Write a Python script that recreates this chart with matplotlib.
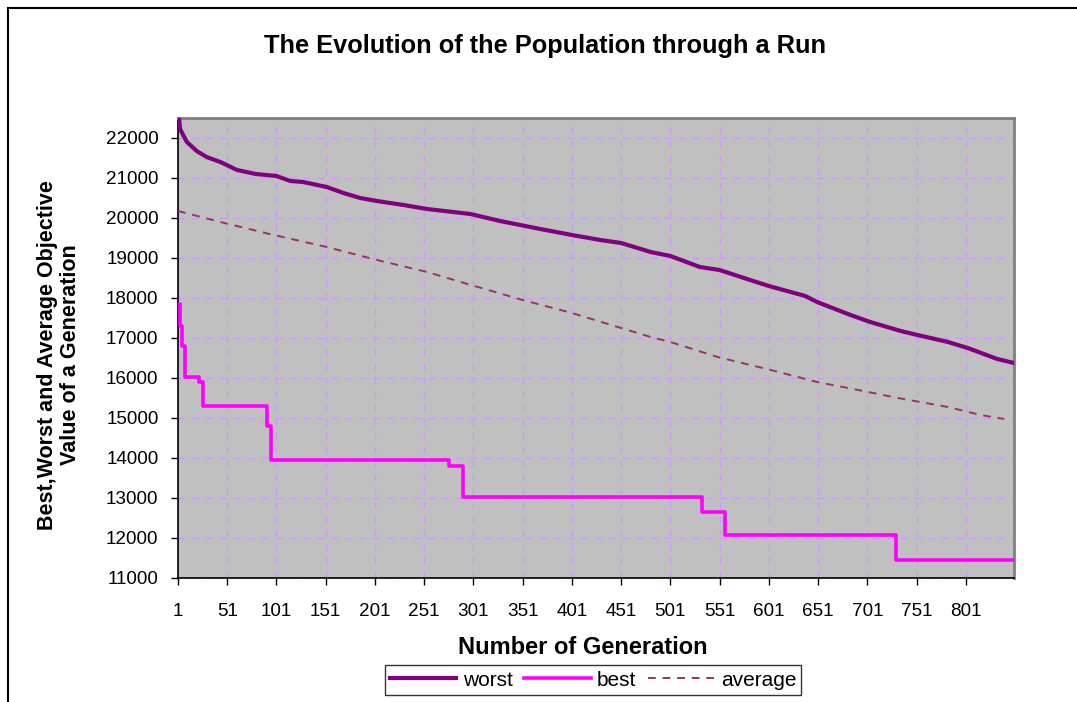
import numpy as np
import matplotlib.pyplot as plt
from matplotlib.patches import Rectangle

plt.rcParams['font.family'] = ['Liberation Sans', 'DejaVu Sans']

worst_gen = [1, 3, 10, 20, 30, 44, 61, 80, 101, 115, 128, 152, 169, 186, 203,
             230, 254, 298, 328, 369, 401, 430, 451, 481, 501, 531, 551, 582,
             601, 638, 650, 684, 704, 735, 752, 783, 803, 833, 850]
worst_val = [22800, 22230, 21900, 21675, 21525, 21400, 21200, 21100, 21050,
             20925, 20900, 20775, 20625, 20500, 20425, 20325, 20225, 20100,
             19925, 19725, 19575, 19450, 19375, 19150, 19050, 18775, 18700,
             18450, 18300, 18050, 17900, 17575, 17400, 17175, 17075, 16900,
             16750, 16475, 16375]

# population average
avg_gen = [1, 44, 94, 152, 203, 254, 295, 351, 401, 451, 481, 501, 549, 603,
           650, 697, 732, 783, 816, 840]
avg_val = [20175, 19900, 19600, 19275, 18950, 18650, 18350, 17950, 17625,
           17250, 17025, 16900, 16525, 16200, 15900, 15675, 15500, 15275,
           15075, 14975]

# best individual: generation where a new value starts
best_gen = [1, 3, 5, 8, 22, 26, 91, 95, 276, 290, 533, 557, 730, 850]
best_val = [17850, 17300, 16800, 16025, 15900, 15300, 14800, 13950, 13800,
            13025, 12650, 12075, 11450, 11450]

xticks = list(range(1, 802, 50))
yticks = list(range(11000, 22001, 1000))

fig = plt.figure(figsize=(10.77, 7.02), dpi=100)
ax = fig.add_axes([178 / 1077, 1 - 578 / 702, (1014 - 178) / 1077, (578 - 118) / 702])
ax.set_facecolor('#C0C0C0')

ax.plot(worst_gen, worst_val, color='#800080', lw=3, label='worst', zorder=4)
ax.plot(best_gen, best_val, color='#FF00FF', lw=2.6, drawstyle='steps-post',
        label='best', zorder=4)
ax.plot(avg_gen, avg_val, color='#993366', lw=1.4, dashes=(4, 3.5),
        label='average', zorder=3)

ax.set_xlim(1, 850)
ax.set_ylim(11000, 22500)
ax.set_xticks(xticks)
ax.set_yticks(yticks)
ax.tick_params(axis='both', direction='out', length=5, width=1, labelsize=13.6,
               colors='black')
ax.tick_params(axis='x', pad=13)
ax.tick_params(axis='y', pad=9)
ax.grid(True, color='#CC99FF', lw=1, dashes=(5, 5))
ax.set_axisbelow(True)

for s in ['top', 'right']:
    ax.spines[s].set_color('#808080')
    ax.spines[s].set_linewidth(2)
for s in ['left', 'bottom']:
    ax.spines[s].set_color('black')
    ax.spines[s].set_linewidth(1.2)

fig.text(545 / 1077, 1 - 46 / 702, 'The Evolution of the Population through a Run',
         ha='center', va='center', fontsize=18.3, fontweight='bold')
fig.text(59 / 1077, 1 - 355 / 702,
         'Best,Worst and Average Objective\nValue of a Generation',
         ha='center', va='center', rotation=90, fontsize=15.5, fontweight='bold',
         linespacing=1.12)
fig.text(583 / 1077, 1 - 648 / 702, 'Number of Generation', ha='center',
         va='center', fontsize=17, fontweight='bold')

leg = fig.legend(loc='center', bbox_to_anchor=(593 / 1077, 1 - 680 / 702),
                 ncol=3, fontsize=15, frameon=True, fancybox=False,
                 edgecolor='black', handlelength=3.2, columnspacing=0.55,
                 handletextpad=0.3, borderpad=0.25, borderaxespad=0)
leg.get_frame().set_linewidth(1)

# outer chart border (partially cropped in the original)
fig.patches.append(Rectangle((8 / 1077, -0.05), 1.2, 1 - 8 / 702 + 0.05,
                             transform=fig.transFigure, fill=False,
                             edgecolor='black', lw=1.5))

fig.savefig('out.png', dpi=100)
